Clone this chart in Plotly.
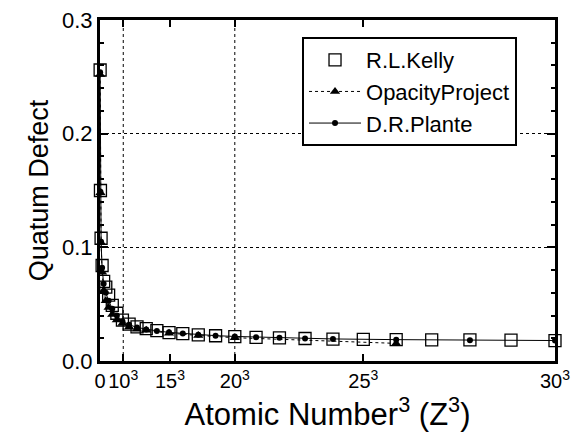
import plotly.graph_objects as go

# ---- data ----
Z_KELLY = list(range(2, 31))
KELLY = [0.256, 0.150, 0.108, 0.084, 0.070, 0.065, 0.058, 0.049, 0.042, 0.036,
         0.0325, 0.030, 0.0285, 0.0267, 0.0250, 0.0240, 0.0230, 0.0222, 0.0214,
         0.0208, 0.0203, 0.0198, 0.0193, 0.0190, 0.0188, 0.0186, 0.0185, 0.0183, 0.0180]

Z_OP = [2, 3, 4, 5, 6, 7, 8, 9, 10, 11, 12, 13, 14, 16, 18, 20, 26]
OP = [0.252, 0.148, 0.104, 0.078, 0.062, 0.053, 0.047, 0.041, 0.036, 0.033,
      0.030, 0.028, 0.027, 0.0245, 0.0225, 0.0205, 0.0155]

Z_PLANTE = list(range(2, 25)) + [26, 28, 30]
PLANTE = [0.254, 0.149, 0.105, 0.082, 0.068, 0.060, 0.053, 0.046, 0.040, 0.035,
          0.032, 0.0295, 0.0278, 0.0265, 0.0252, 0.0242, 0.0232, 0.0223, 0.0216,
          0.0210, 0.0204, 0.0199, 0.0194, 0.0188, 0.0183, 0.0180]

XTICK_VALS = [0, 1380, 4150, 8000, 15625, 27000]
XTICK_TEXT = ["0", "10<sup>3</sup>", "15<sup>3</sup>", "20<sup>3</sup>",
              "25<sup>3</sup>", "30<sup>3</sup>"]
XGRID = [1380, 8000]
YTICK_VALS = [0.0, 0.1, 0.2, 0.3]

cube = lambda zs: [z ** 3 for z in zs]

FONT = "Liberation Sans, Arial, Helvetica, sans-serif"

fig = go.Figure()
fig.add_trace(go.Scatter(
    x=cube(Z_KELLY), y=KELLY, mode="markers", name="R.L.Kelly",
    marker=dict(symbol="square-open", size=12, color="black", line=dict(width=1.3)),
    cliponaxis=False))
fig.add_trace(go.Scatter(
    x=cube(Z_OP), y=OP, mode="lines+markers", name="OpacityProject",
    line=dict(color="black", width=1, dash="dot"),
    marker=dict(symbol="triangle-up", size=9, color="black"),
    cliponaxis=False))
fig.add_trace(go.Scatter(
    x=cube(Z_PLANTE), y=PLANTE, mode="lines+markers", name="D.R.Plante",
    line=dict(color="black", width=1),
    marker=dict(symbol="circle", size=6, color="black"),
    cliponaxis=False))

for gx in XGRID:
    fig.add_shape(type="line", xref="x", yref="paper", x0=gx, x1=gx, y0=0, y1=1,
                  line=dict(color="black", width=1, dash="dot"), layer="below")

fig.update_layout(
    width=579, height=432,
    margin=dict(l=100, r=24, t=20, b=71),
    paper_bgcolor="white", plot_bgcolor="white",
    font=dict(family=FONT, color="black", size=21),
    showlegend=True,
    legend=dict(x=0.444, y=0.95, xanchor="left", yanchor="top",
                bgcolor="white", bordercolor="black", borderwidth=2,
                font=dict(size=22, family=FONT), itemwidth=52),
)
fig.update_xaxes(
    range=[0, 27000], showgrid=False, zeroline=False, automargin=False,
    tickmode="array", tickvals=XTICK_VALS, ticktext=XTICK_TEXT, tickangle=0,
    ticks="inside", ticklen=7, tickwidth=2, tickcolor="black",
    showline=True, linecolor="black", linewidth=3, mirror="ticks",
    tickfont=dict(size=20),
    title=dict(text="Atomic Number<sup>3</sup> (Z<sup>3</sup>)", font=dict(size=31), standoff=2),
)
fig.update_yaxes(
    range=[0, 0.3], zeroline=False, automargin=False,
    tickmode="array", tickvals=YTICK_VALS, tickformat=".1f",
    showgrid=True, gridcolor="black", gridwidth=1, griddash="dot",
    ticks="inside", ticklen=8, tickwidth=2, tickcolor="black",
    minor=dict(dtick=0.02, ticks="inside", ticklen=4, tickwidth=2, tickcolor="black", showgrid=False),
    showline=True, linecolor="black", linewidth=3, mirror="ticks",
    tickfont=dict(size=22),
    title=dict(text="Quatum Defect", font=dict(size=27), standoff=6),
)

fig.write_html("out.html")
